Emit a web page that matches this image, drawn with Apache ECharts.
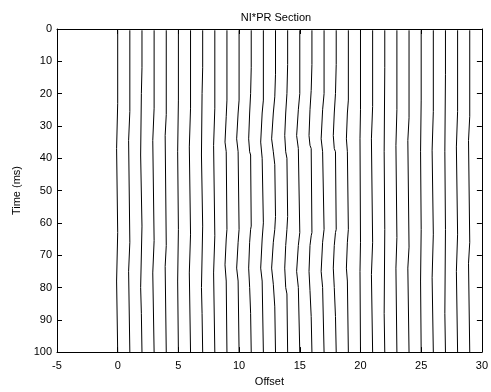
<!DOCTYPE html>
<html>
<head>
<meta charset="utf-8">
<script src="https://cdn.jsdelivr.net/npm/echarts@6/dist/echarts.min.js"></script>
<style>
  html, body { margin: 0; padding: 0; background: #fff; }
  #chart { width: 491px; height: 392px; }
</style>
</head>
<body>
<div id="chart"></div>
<script>
// trace positions (offset axis)
const offsets = [0, 1, 2, 3, 4, 5, 6, 7, 8, 9, 10, 11, 12, 13, 14, 15, 16, 17, 18, 19, 20, 21, 22, 23, 24, 25, 26, 27, 28, 29];

// wiggle events per trace: [tStart, tEnd, amplitude] (amplitude in offset units, negative = left)
const waveEvents = [
  [[23, 37, -0.09], [63, 78, -0.09]],
  [[25.5, 34.5, -0.1], [66, 75, -0.1]],
  [[12, 39, -0.05], [20, 39, -0.06], [61, 88, -0.05], [61, 80, -0.06]],
  [[24.5, 34.5, -0.11], [65.5, 75.5, -0.11]],
  [[26.5, 33, -0.09], [67, 73.5, -0.09]],
  [[22, 38, -0.06], [62, 78, -0.06]],
  [[24.5, 36.5, -0.1], [63.5, 75.5, -0.1]],
  [[12, 39, -0.05], [20, 39, -0.05], [61, 88, -0.05], [61, 80, -0.05]],
  [[24.5, 36, -0.1], [64, 75.5, -0.1]],
  [[22, 38, -0.06], [27, 35, -0.1], [62, 78, -0.06], [65, 73, -0.1]],
  [[22, 38, -0.08], [26, 34, -0.12], [62, 78, -0.08], [66, 74, -0.12]],
  [[12, 39, -0.05], [20, 38, -0.08], [26, 34, -0.08], [61, 88, -0.05], [62, 80, -0.08], [66, 74, -0.08]],
  [[22, 40, -0.1], [26, 35, -0.12], [60, 78, -0.1], [65, 74, -0.12]],
  [[14, 42, -0.06], [21, 38, -0.12], [26, 34, -0.14], [58, 86, -0.06], [62, 79, -0.12], [66, 74, -0.14]],
  [[11, 40, -0.06], [20, 38, -0.1], [26, 33, -0.08], [58, 82, -0.06], [62, 80, -0.1], [67, 74, -0.08]],
  [[20, 37, -0.12], [25, 33, -0.14], [63, 80, -0.12], [67, 75, -0.14]],
  [[11, 37, -0.06], [19, 36, -0.1], [25, 33, -0.08], [63, 89, -0.06], [64, 81, -0.1], [67, 75, -0.08]],
  [[20, 38, -0.12], [25, 34, -0.12], [62, 80, -0.12], [66, 75, -0.12]],
  [[11, 38, -0.06], [20, 37, -0.1], [26, 33, -0.08], [62, 89, -0.06], [63, 80, -0.1], [67, 74, -0.08]],
  [[22, 38, -0.08], [26, 34, -0.08], [62, 78, -0.08], [66, 74, -0.08]],
  [[25, 34, -0.04], [66, 75, -0.04]],
  [[24, 34, -0.1], [66, 76, -0.1]],
  [[12, 38, -0.05], [62, 88, -0.05]],
  [[25, 36, -0.08], [64.5, 74, -0.08]],
  [[27.5, 34.5, -0.1], [67.5, 74, -0.1]],
  [[22, 38, -0.05], [62, 78, -0.05]],
  [[25.5, 37.5, -0.1], [63.5, 77, -0.1]],
  [[14, 38, -0.05], [62, 88, -0.05]],
  [[25.5, 36.5, -0.1], [63.5, 75, -0.1]],
  [[27, 34.5, -0.1], [66, 72.5, -0.1]]
];

// turn a trace's events into a stepped polyline [x, t]
function traceLine(x0, events) {
  const cuts = new Set([0, 100]);
  events.forEach(e => { cuts.add(e[0]); cuts.add(e[1]); });
  const ts = Array.from(cuts).sort((a, b) => a - b);
  const devAt = t => events.reduce((s, e) => (t >= e[0] && t < e[1] ? s + e[2] : s), 0);
  const pts = [];
  ts.forEach((t, i) => {
    if (i > 0) pts.push([x0 + devAt(ts[i - 1]), t]);
    if (i < ts.length - 1) pts.push([x0 + devAt(t), t + 0.4]);
  });
  return pts;
}

const chart = echarts.init(document.getElementById("chart"));

const font = "Liberation Sans";
const tickOpts = { show: true, inside: true, length: 5, lineStyle: { color: "#000" } };
const lineOpts = { show: true, onZero: false, lineStyle: { color: "#000", width: 1 } };

const series = offsets.map((x, i) => ({
  type: "line",
  data: traceLine(x, waveEvents[i]),
  showSymbol: false,
  lineStyle: { color: "#000", width: 1 },
  silent: true
}));

chart.setOption({
  animation: false,
  title: {
    text: "NI*PR Section",
    left: 271,
    textAlign: "center",
    top: 7,
    textStyle: { fontFamily: font, fontSize: 11, fontWeight: "normal", color: "#000" }
  },
  grid: { left: 57, right: 6, top: 29, bottom: 34 },
  xAxis: [
    {
      type: "value", min: -5, max: 30, interval: 5, position: "bottom",
      name: "Offset", nameLocation: "middle", nameGap: 23,
      nameTextStyle: { fontFamily: font, fontSize: 11, color: "#000" },
      axisLine: lineOpts, axisTick: tickOpts, splitLine: { show: false },
      axisLabel: { fontFamily: font, fontSize: 11, color: "#000", margin: 8 }
    },
    {
      type: "value", min: -5, max: 30, interval: 5, position: "top",
      axisLine: lineOpts, axisTick: tickOpts, splitLine: { show: false },
      axisLabel: { show: false }
    }
  ],
  yAxis: [
    {
      type: "value", min: 0, max: 100, interval: 10, inverse: true, position: "left",
      name: "Time (ms)", nameLocation: "middle", nameGap: 33, nameRotate: 90,
      nameTextStyle: { fontFamily: font, fontSize: 11, color: "#000" },
      axisLine: lineOpts, axisTick: tickOpts, splitLine: { show: false },
      axisLabel: { fontFamily: font, fontSize: 11, color: "#000", margin: 5 }
    },
    {
      type: "value", min: 0, max: 100, interval: 10, inverse: true, position: "right",
      axisLine: lineOpts, axisTick: tickOpts, splitLine: { show: false },
      axisLabel: { show: false }
    }
  ],
  series: series
});
</script>
</body>
</html>
